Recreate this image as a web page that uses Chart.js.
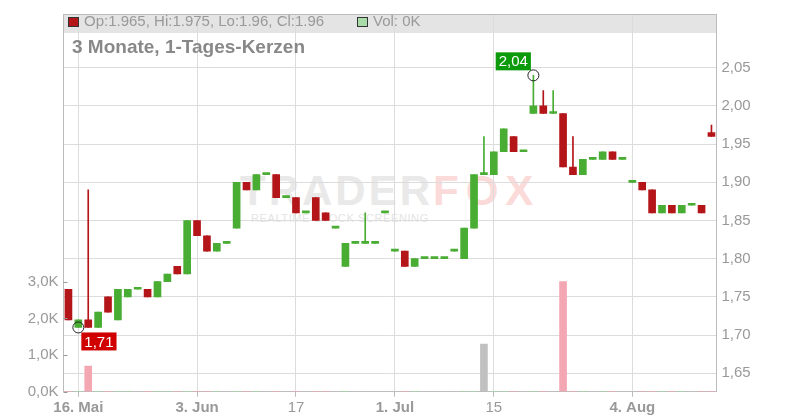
<!DOCTYPE html>
<html>
<head>
<meta charset="utf-8">
<script src="https://cdn.jsdelivr.net/npm/chart.js@4.4.1/dist/chart.umd.min.js"></script>
<style>
    body { margin: 0; background: #fff; }
    #wrap { position: relative; width: 800px; height: 420px; font-family: "Liberation Sans", Arial, sans-serif; }
    #grafica { position: absolute; left: 0; top: 0; z-index: 2; }
    .wm { position: absolute; z-index: 1; white-space: nowrap; }
    .top { position: absolute; z-index: 3; white-space: nowrap; }
    .box { position: absolute; z-index: 3; width: 9px; height: 8px; border: 1px solid #333; }
</style>
</head>
<body>
<div id="wrap">
    <div class="wm" style="left:240px;top:170px;font-size:42px;line-height:42px;font-weight:bold;letter-spacing:3px;color:#e9e9e9">TRADER<span style="color:#fbdada;letter-spacing:7px">FOX</span></div>
    <div class="wm" style="left:251px;top:213px;font-size:11px;line-height:11px;letter-spacing:0.6px;color:#e4e4e4">REALTIME STOCK SCREENING</div>
    <canvas id="grafica" width="800" height="420"></canvas>
    <div class="box" id="boxKerze" style="left:68px;top:17px"></div>
    <div class="top" id="ohlc" style="left:84px;top:11px;font-size:15px;line-height:19px;color:#999"></div>
    <div class="box" style="left:357px;top:17px;background:#a8dca8"></div>
    <div class="top" id="vol" style="left:373px;top:11px;font-size:15px;line-height:19px;color:#999"></div>
    <div class="top" style="left:72px;top:36px;font-size:19px;line-height:22px;font-weight:bold;color:#888">3 Monate, 1-Tages-Kerzen</div>
</div>
<script>
// Handelstage (Mai - Aug 2025)
const tage = [
    "2025-05-15", "2025-05-16", "2025-05-19", "2025-05-20", "2025-05-21", "2025-05-22", "2025-05-23",
    "2025-05-26", "2025-05-27", "2025-05-28", "2025-05-29", "2025-05-30",
    "2025-06-02", "2025-06-03", "2025-06-04", "2025-06-05", "2025-06-06", "2025-06-09", "2025-06-10",
    "2025-06-11", "2025-06-12", "2025-06-13", "2025-06-16", "2025-06-17", "2025-06-18", "2025-06-19",
    "2025-06-20", "2025-06-23", "2025-06-24", "2025-06-25", "2025-06-26", "2025-06-27", "2025-06-30",
    "2025-07-01", "2025-07-02", "2025-07-03", "2025-07-04", "2025-07-07", "2025-07-08", "2025-07-09",
    "2025-07-10", "2025-07-11", "2025-07-14", "2025-07-15", "2025-07-16", "2025-07-17", "2025-07-18",
    "2025-07-21", "2025-07-22", "2025-07-23", "2025-07-24", "2025-07-25", "2025-07-28", "2025-07-29",
    "2025-07-30", "2025-07-31", "2025-08-01", "2025-08-04", "2025-08-05", "2025-08-06", "2025-08-07",
    "2025-08-08", "2025-08-11", "2025-08-12", "2025-08-13", "2025-08-14"
];
const eroeffnung = [
    1.76, 1.71, 1.72, 1.71, 1.75, 1.72, 1.75, 1.76, 1.76, 1.75, 1.77, 1.79,
    1.78, 1.85, 1.83, 1.81, 1.82, 1.84, 1.90, 1.89, 1.91, 1.91, 1.88, 1.88, 1.86, 1.88, 1.86,
    1.84, 1.79, 1.82, 1.82, 1.82, 1.86,
    1.81, 1.81, 1.79, 1.80, 1.80, 1.80, 1.81, 1.80, 1.84, 1.91, 1.91, 1.94, 1.96, 1.94,
    1.99, 2.00, 1.99, 1.99, 1.92, 1.91, 1.93, 1.93, 1.94, 1.93,
    1.90, 1.90, 1.89, 1.86, 1.87, 1.86, 1.87, 1.87, 1.965
];
const hoch = [
    1.76, 1.72, 1.89, 1.73, 1.75, 1.76, 1.76, 1.76, 1.76, 1.77, 1.78, 1.79,
    1.85, 1.85, 1.83, 1.82, 1.82, 1.90, 1.90, 1.91, 1.91, 1.91, 1.88, 1.88, 1.86, 1.88, 1.86,
    1.84, 1.82, 1.82, 1.86, 1.82, 1.86,
    1.81, 1.81, 1.80, 1.80, 1.80, 1.80, 1.81, 1.84, 1.91, 1.96, 1.94, 1.97, 1.96, 1.94,
    2.04, 2.02, 2.02, 1.99, 1.96, 1.93, 1.93, 1.94, 1.94, 1.93,
    1.90, 1.90, 1.89, 1.87, 1.87, 1.87, 1.87, 1.87, 1.975
];
const tief = [
    1.72, 1.71, 1.71, 1.71, 1.73, 1.72, 1.75, 1.76, 1.75, 1.75, 1.77, 1.78,
    1.78, 1.83, 1.81, 1.81, 1.82, 1.84, 1.89, 1.89, 1.91, 1.88, 1.88, 1.86, 1.86, 1.85, 1.85,
    1.84, 1.79, 1.82, 1.82, 1.82, 1.86,
    1.81, 1.79, 1.79, 1.80, 1.80, 1.80, 1.81, 1.80, 1.84, 1.91, 1.91, 1.94, 1.94, 1.94,
    1.99, 1.99, 1.99, 1.92, 1.91, 1.91, 1.93, 1.93, 1.93, 1.93,
    1.90, 1.89, 1.86, 1.86, 1.86, 1.86, 1.87, 1.86, 1.96
];
const schluss = [
    1.72, 1.72, 1.71, 1.73, 1.73, 1.76, 1.76, 1.76, 1.75, 1.77, 1.78, 1.78,
    1.85, 1.83, 1.81, 1.82, 1.82, 1.90, 1.89, 1.91, 1.91, 1.88, 1.88, 1.86, 1.86, 1.85, 1.85,
    1.84, 1.82, 1.82, 1.82, 1.82, 1.86,
    1.81, 1.79, 1.80, 1.80, 1.80, 1.80, 1.81, 1.84, 1.91, 1.91, 1.94, 1.97, 1.94, 1.94,
    2.00, 1.99, 1.99, 1.92, 1.91, 1.93, 1.93, 1.94, 1.93, 1.93,
    1.90, 1.89, 1.86, 1.87, 1.86, 1.87, 1.87, 1.86, 1.96
];
const volumen = [
    0, 0, 700, 0, 0, 0, 0, 0, 0, 0, 0, 0,
    0, 0, 0, 0, 0, 0, 0, 0, 0, 0, 0, 0, 0, 0, 0,
    0, 0, 0, 0, 0, 0,
    0, 0, 0, 0, 0, 0, 0, 0, 0, 1300, 0, 0, 0, 0,
    0, 0, 0, 3000, 0, 0, 0, 0, 0, 0,
    0, 0, 0, 0, 0, 0, 0, 0, 0
];
const achsenTage = ["2025-05-16", "2025-06-03", "2025-06-17", "2025-07-01", "2025-07-15", "2025-08-04"];
const achsenText = ["16. Mai", "3. Jun", "17", "1. Jul", "15", "4. Aug"];
const achsenFett = [true, true, false, true, false, true];
const kursTicks = [1.65, 1.70, 1.75, 1.80, 1.85, 1.90, 1.95, 2.00, 2.05];
const volTicks = [0, 1000, 2000, 3000];

const ROT = "#b41519", GRUEN = "#48ad32";
const farbe = eroeffnung.map((o, i) => schluss[i] < o ? ROT : GRUEN);
const volFarbe = eroeffnung.map((o, i) => schluss[i] < o ? "#f2a7b2" : (schluss[i] > o ? "#a8dca8" : "#c0c0c0"));
const komma = (v, n) => v.toFixed(n).replace(".", ",");
const tickPos = i => achsenTage.indexOf(tage[i]);

const n = tage.length - 1;
document.getElementById("ohlc").textContent =
    `Op:${eroeffnung[n]}, Hi:${hoch[n]}, Lo:${tief[n]}, Cl:${schluss[n]}`;
document.getElementById("vol").textContent = `Vol: ${volumen[n] / 1000}K`;
document.getElementById("boxKerze").style.background = farbe[n];

const extras = {
    id: "extras",
    beforeDraw(chart) {
        const { ctx, chartArea: a } = chart;
        ctx.save();
        ctx.fillStyle = "#e4e4e4";
        ctx.fillRect(a.left, a.top, a.right - a.left, 19);
        ctx.restore();
    },
    afterDraw(chart) {
        const { ctx, chartArea: a, scales } = chart;
        ctx.save();
        // Rahmen oben
        ctx.strokeStyle = "#bbb";
        ctx.lineWidth = 1;
        ctx.beginPath();
        ctx.moveTo(a.left, a.top + 0.5);
        ctx.lineTo(a.right, a.top + 0.5);
        ctx.stroke();
        // kleine Striche an der Volumenachse
        ctx.strokeStyle = "#999";
        volTicks.forEach(v => {
            const y = Math.round(scales.v.getPixelForValue(v)) + 0.5;
            ctx.beginPath();
            ctx.moveTo(a.left, y);
            ctx.lineTo(a.left + 4, y);
            ctx.stroke();
        });
        // Markierung Hoch / Tief
        const iH = hoch.indexOf(Math.max(...hoch));
        const iT = tief.indexOf(Math.min(...tief));
        ctx.font = "15px 'Liberation Sans', Arial, sans-serif";
        ctx.textAlign = "center";
        ctx.textBaseline = "middle";
        const marke = (i, wert, bg, oben) => {
            const x = scales.x.getPixelForValue(i);
            const y = scales.y.getPixelForValue(wert);
            ctx.strokeStyle = "#222";
            ctx.beginPath();
            ctx.arc(x, y, 5.5, 0, Math.PI * 2);
            ctx.stroke();
            const txt = komma(wert, 2);
            const w = ctx.measureText(txt).width + 6, h = 18;
            const bx = oben ? x - 2.5 - w : x + 3;
            const by = oben ? y - 5 - h : y + 5;
            ctx.fillStyle = bg;
            ctx.fillRect(bx, by, w, h);
            ctx.fillStyle = "#fff";
            ctx.fillText(txt, bx + w / 2, by + h / 2 + 1);
        };
        marke(iH, hoch[iH], "#0a9a0a", true);
        marke(iT, tief[iT], "#d00000", false);
        ctx.restore();
    }
};

const grau = "#999";
const schrift = { family: "'Liberation Sans', Arial, sans-serif", size: 15 };

new Chart(document.getElementById("grafica"), {
    type: "bar",
    data: {
        labels: tage,
        datasets: [
            {
                label: "Kerze",
                data: eroeffnung.map((o, i) => [o, schluss[i]]),
                backgroundColor: farbe,
                barThickness: 7,
                minBarLength: 2,
                grouped: false,
                yAxisID: "y",
                order: 0
            },
            {
                label: "Docht",
                data: tief.map((l, i) => [l, hoch[i]]),
                backgroundColor: farbe,
                barThickness: 1,
                grouped: false,
                yAxisID: "y",
                order: 1
            },
            {
                label: "Volumen",
                data: volumen,
                backgroundColor: volFarbe,
                barThickness: 7,
                grouped: false,
                yAxisID: "v",
                order: 2
            }
        ]
    },
    options: {
        responsive: false,
        animation: false,
        layout: { padding: { top: 11.5, left: 0, right: 0, bottom: 0 } },
        plugins: { legend: { display: false }, tooltip: { enabled: false } },
        scales: {
            x: {
                offset: true,
                afterFit(s) { s.height = 28.3; },
                border: { color: "#bbb" },
                grid: {
                    offset: false,
                    tickLength: 5,
                    color: c => tickPos(c.index) >= 0 ? "#dcdcdc" : "rgba(0,0,0,0)",
                    tickColor: c => tickPos(c.index) >= 0 ? "#bbb" : "rgba(0,0,0,0)"
                },
                ticks: {
                    autoSkip: false,
                    maxRotation: 0,
                    padding: 2,
                    color: grau,
                    font: c => ({ ...schrift, weight: achsenFett[tickPos(c.index)] ? "bold" : "normal" }),
                    callback: (v, i) => tickPos(i) >= 0 ? achsenText[tickPos(i)] : ""
                }
            },
            y: {
                position: "right",
                min: 1.6259,
                max: 2.1203,
                afterFit(s) { s.width = 83.6; },
                afterBuildTicks(s) { s.ticks = kursTicks.map(v => ({ value: v })); },
                border: { color: "#bbb" },
                grid: { color: "#dcdcdc", drawTicks: false },
                ticks: { color: grau, font: schrift, padding: 5, callback: v => komma(v, 2) }
            },
            v: {
                position: "left",
                min: 0,
                max: 10300,
                afterFit(s) { s.width = 63.5; },
                afterBuildTicks(s) { s.ticks = volTicks.map(v => ({ value: v })); },
                border: { color: "#bbb" },
                grid: { drawOnChartArea: false, drawTicks: false },
                ticks: { color: grau, font: schrift, padding: 5, callback: v => komma(v / 1000, 1) + "K" }
            }
        }
    },
    plugins: [extras]
});
</script>
</body>
</html>
